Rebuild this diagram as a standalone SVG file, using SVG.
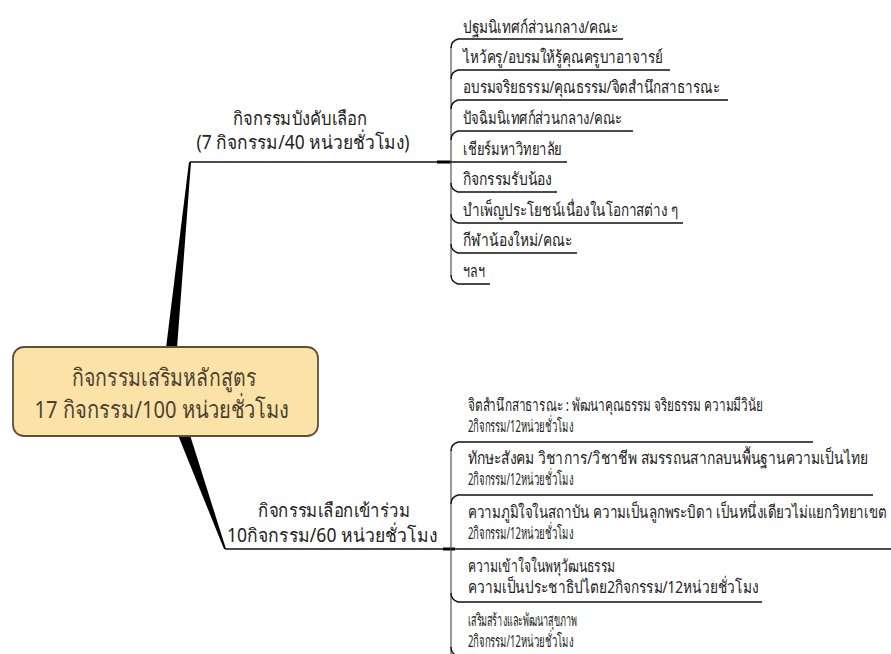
<svg xmlns="http://www.w3.org/2000/svg" width="891" height="654" viewBox="0 0 891 654">
<style>
text{font-family:"Noto Sans","DejaVu Sans",sans-serif;fill:#222}
.c{font-size:24px;fill:#4a4030;text-anchor:middle}
.b{font-size:19px;text-anchor:middle}
.l{font-size:17px}
.ul{fill:none;stroke:#111;stroke-width:1.4}
.sp{fill:none;stroke:#555;stroke-width:1.2}
.br{fill:none;stroke:#111;stroke-width:1.5}
</style>
<rect width="891" height="654" fill="#fff"/>
<g id="connectors">
<polygon points="166,348 177,348 191,162 189,162" fill="#000"/>
<polygon points="178,435 190,435 226,549 224,549" fill="#000"/>
<line class="br" x1="190" y1="162" x2="451" y2="162"/>
<line x1="437" y1="162" x2="451" y2="162" stroke="#000" stroke-width="3"/>
<line class="br" x1="225" y1="549" x2="451" y2="549"/>
<line x1="443" y1="549" x2="455" y2="549" stroke="#000" stroke-width="3"/>
<line class="sp" x1="451" y1="47" x2="451" y2="276"/>
<line class="sp" x1="451" y1="450" x2="451" y2="654"/>
</g>
<g id="root">
<rect x="13" y="347" width="305" height="89" rx="11" fill="#FBE3A8" stroke="#5e5038" stroke-width="1.8"/>
<text class="c" x="164" y="386" textLength="185" lengthAdjust="spacingAndGlyphs">กิจกรรมเสริมหลักสูตร</text>
<text class="c" x="162" y="418" textLength="255" lengthAdjust="spacingAndGlyphs">17 กิจกรรม/100 หน่วยชั่วโมง</text>
</g>
<g id="branch-required">
<text class="b" x="300" y="125" textLength="135" lengthAdjust="spacingAndGlyphs">กิจกรรมบังคับเลือก</text>
<text class="b" x="303" y="149" textLength="213" lengthAdjust="spacingAndGlyphs">(7 กิจกรรม/40 หน่วยชั่วโมง)</text>
</g>
<g id="branch-elective">
<text class="b" x="334" y="517" textLength="152" lengthAdjust="spacingAndGlyphs">กิจกรรมเลือกเข้าร่วม</text>
<text class="b" x="332" y="542" textLength="210" lengthAdjust="spacingAndGlyphs">10กิจกรรม/60 หน่วยชั่วโมง</text>
</g>
<g id="r1"><path class="ul" d="M451,48 Q451,41 458,39 H623"/><text class="l" x="463" y="33" textLength="155" lengthAdjust="spacingAndGlyphs">ปฐมนิเทศก์ส่วนกลาง/คณะ</text></g>
<g id="r2"><path class="ul" d="M451,79 Q451,72 458,70 H670"/><text class="l" x="463" y="63" textLength="200" lengthAdjust="spacingAndGlyphs">ไหว้ครู/อบรมให้รู้คุณครูบาอาจารย์</text></g>
<g id="r3"><path class="ul" d="M451,109 Q451,102 458,100 H728"/><text class="l" x="463" y="93" textLength="257" lengthAdjust="spacingAndGlyphs">อบรมจริยธรรม/คุณธรรม/จิตสำนึกสาธารณะ</text></g>
<g id="r4"><path class="ul" d="M451,140 Q451,133 458,131 H633"/><text class="l" x="463" y="124" textLength="159" lengthAdjust="spacingAndGlyphs">ปัจฉิมนิเทศก์ส่วนกลาง/คณะ</text></g>
<g id="r5"><path class="ul" d="M451,162 H567"/><text class="l" x="463" y="155" textLength="99" lengthAdjust="spacingAndGlyphs">เชียร์มหาวิทยาลัย</text></g>
<g id="r6"><path class="ul" d="M451,183 Q451,190 458,192 H557"/><text class="l" x="463" y="185" textLength="89" lengthAdjust="spacingAndGlyphs">กิจกรรมรับน้อง</text></g>
<g id="r7"><path class="ul" d="M451,214 Q451,221 458,223 H683"/><text class="l" x="463" y="216" textLength="215" lengthAdjust="spacingAndGlyphs">บำเพ็ญประโยชน์เนื่องในโอกาสต่าง ๆ</text></g>
<g id="r8"><path class="ul" d="M451,244 Q451,251 458,253 H577"/><text class="l" x="463" y="246" textLength="109" lengthAdjust="spacingAndGlyphs">กีฬาน้องใหม่/คณะ</text></g>
<g id="r9"><path class="ul" d="M451,275 Q451,282 458,284 H490"/><text class="l" x="463" y="277" textLength="22" lengthAdjust="spacingAndGlyphs">ฯลฯ</text></g>
<g id="e1"><path class="ul" d="M451,451 Q451,444 458,442 H813"/><text class="l" x="468" y="411" textLength="295" lengthAdjust="spacingAndGlyphs">จิตสำนึกสาธารณะ : พัฒนาคุณธรรม จริยธรรม ความมีวินัย</text><text class="l" x="468" y="432" textLength="105" lengthAdjust="spacingAndGlyphs">2กิจกรรม/12หน่วยชั่วโมง</text></g>
<g id="e2"><path class="ul" d="M451,504 Q451,497 458,495 H873"/><text class="l" x="468" y="464" textLength="400" lengthAdjust="spacingAndGlyphs">ทักษะสังคม  วิชาการ/วิชาชีพ สมรรถนสากลบนพื้นฐานความเป็นไทย</text><text class="l" x="468" y="485" textLength="105" lengthAdjust="spacingAndGlyphs">2กิจกรรม/12หน่วยชั่วโมง</text></g>
<g id="e3"><path class="ul" d="M451,549 H891"/><text class="l" x="468" y="518" textLength="419" lengthAdjust="spacingAndGlyphs">ความภูมิใจในสถาบัน  ความเป็นลูกพระบิดา เป็นหนึ่งเดียวไม่แยกวิทยาเขต</text><text class="l" x="468" y="539" textLength="105" lengthAdjust="spacingAndGlyphs">2กิจกรรม/12หน่วยชั่วโมง</text></g>
<g id="e4"><path class="ul" d="M451,593 Q451,600 458,602 H762"/><text class="l" x="468" y="572" textLength="147" lengthAdjust="spacingAndGlyphs">ความเข้าใจในพหุวัฒนธรรม</text><text class="l" x="468" y="593" textLength="290" lengthAdjust="spacingAndGlyphs">ความเป็นประชาธิปไตย2กิจกรรม/12หน่วยชั่วโมง</text></g>
<g id="e5"><path class="ul" d="M451,647 Q451,654 458,656 H580"/><text class="l" x="468" y="626" textLength="109" lengthAdjust="spacingAndGlyphs">เสริมสร้างและพัฒนาสุขภาพ</text><text class="l" x="468" y="647" textLength="105" lengthAdjust="spacingAndGlyphs">2กิจกรรม/12หน่วยชั่วโมง</text></g>
</svg>
